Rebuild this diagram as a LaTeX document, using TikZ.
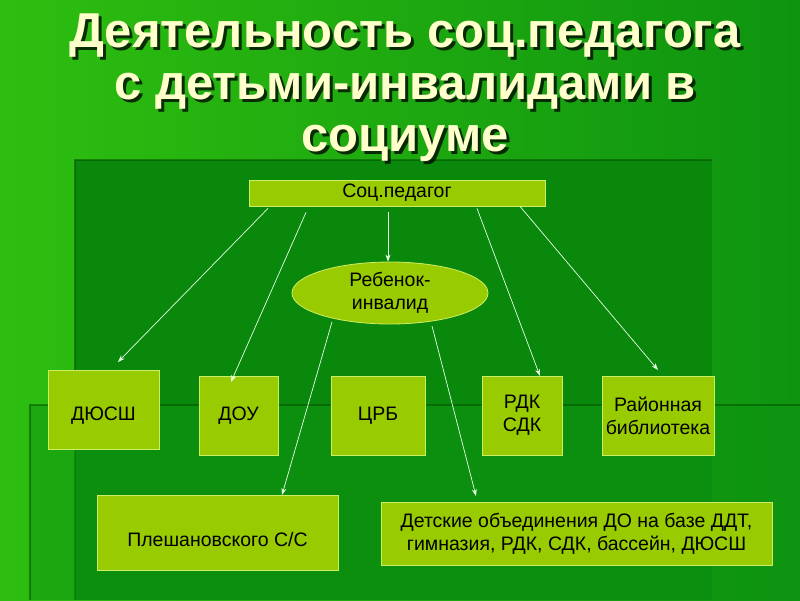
\documentclass[tikz,border=0pt]{standalone}
\usepackage{fontspec}
\setmainfont{Liberation Sans}
\usetikzlibrary{shapes.geometric,arrows.meta}
\definecolor{bgl}{HTML}{2EBE10}
\definecolor{bgd}{HTML}{0E9410}
\definecolor{bgi}{HTML}{0A880C}
\definecolor{boxf}{HTML}{99CC00}
\definecolor{boxe}{HTML}{CCEE66}
\definecolor{ttl}{HTML}{FFFFCC}
\tikzset{
 bx/.style={draw=boxe,fill=boxf,line width=0.8pt,font=\fontsize{19.5}{23}\selectfont,align=center,inner sep=0pt},
 ar/.style={draw=white!90!green,line width=0.7pt,-{Stealth[length=7pt,width=5pt]}},
 ttlf/.style={font=\fontsize{49}{52}\selectfont\bfseries,align=center}
}
\begin{document}
\begin{tikzpicture}[x=1pt,y=-1pt]
\useasboundingbox (0,0) rectangle (800,600);
\shade[left color=bgl,right color=bgd] (0,0) rectangle (800,600);
\fill[bgi] (75,160) rectangle (712,600);
\draw[green!30!black,line width=2pt,opacity=0.5] (75,600) -- (75,160) -- (712,160);
\fill[bgd,opacity=0.5] (30,405) rectangle (800,600);
\draw[green!30!black,line width=2pt,opacity=0.5] (30,600) -- (30,405) -- (800,405);
\node[ttlf,text=black,opacity=0.75] (ts) at (408,91) {Деятельность соц.педагога\\с детьми-инвалидами в\\социуме};
\node[ttlf,text=ttl] (t) at (405,88) {Деятельность соц.педагога\\с детьми-инвалидами в\\социуме};
\node[bx,minimum width=296,minimum height=26] (sp) at (397,193) {Соц.педагог};
\node[bx,ellipse,minimum width=196,minimum height=62] (ch) at (390,293) {Ребенок-\\инвалид};
\node[bx,minimum width=111,minimum height=79] (d1) at (103.5,409.5) {\raisebox{-11pt}[0pt][0pt]{ДЮСШ}};
\node[bx,minimum width=79,minimum height=79] (d2) at (238.5,415.5) {ДОУ};
\node[bx,minimum width=94,minimum height=79] (d3) at (378,415.5) {ЦРБ};
\node[bx,minimum width=80,minimum height=79] (d4) at (522,415.5) {РДК\\СДК};
\node[bx,minimum width=112,minimum height=79] (d5) at (658,415.5) {Районная\\библиотека};
\node[bx,minimum width=241,minimum height=75] (p) at (217.5,532.5) {\\[6pt]Плешановского С/С};
\node[bx,minimum width=391,minimum height=63] (o) at (576.5,533.5) {Детские объединения ДО на базе ДДТ,\\гимназия, РДК, СДК, бассейн, ДЮСШ};
\coordinate (e1) at (118,362);
\coordinate (e2) at (231,382);
\coordinate (e4) at (540,376);
\coordinate (e5) at (658,370);
\coordinate (e6) at (282,495);
\coordinate (e7) at (476,496);
\draw[ar] ([xshift=-129pt,yshift=-2pt]sp.south) -- (e1);
\draw[ar] ([xshift=-91pt,yshift=-6pt]sp.south) -- (e2);
\draw[ar] ([xshift=-9pt,yshift=-6pt]sp.south) -- (ch.north-|388,0);
\draw[ar] ([xshift=80pt,yshift=-2pt]sp.south) -- (e4);
\draw[ar] ([xshift=123pt]sp.south) -- (e5);
\draw[ar] (332,322) -- (e6);
\draw[ar] (432,326) -- (e7);
\end{tikzpicture}
\end{document}
